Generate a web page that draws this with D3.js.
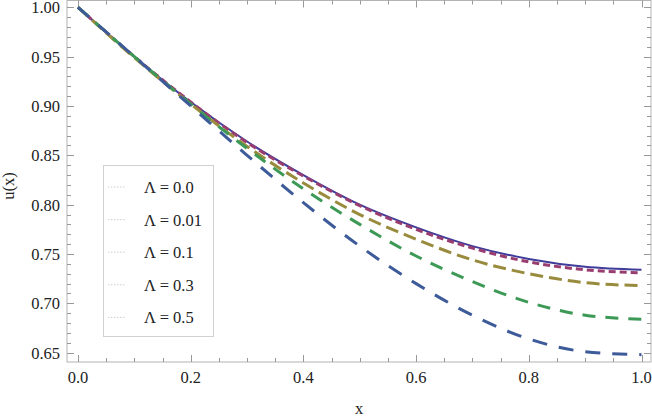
<!DOCTYPE html>
<html><head><meta charset="utf-8">
<script src="https://cdn.jsdelivr.net/npm/d3@7"></script>
<style>
html,body{margin:0;padding:0;background:#fff;}
svg{display:block;}
svg text{font-family:"Liberation Serif","Times New Roman",Times,"DejaVu Serif",serif;}
</style>
</head><body>
<script>
const xs = [0, 0.1, 0.2, 0.3, 0.4, 0.5, 0.6, 0.7, 0.8, 0.9, 1.0];
const lambdaLabels = ["Λ = 0.0", "Λ = 0.01", "Λ = 0.1", "Λ = 0.3", "Λ = 0.5"];
const u0   = [1.000, 0.950, 0.904, 0.864, 0.830, 0.800, 0.777, 0.758, 0.745, 0.737, 0.734];
const u001 = [1.000, 0.950, 0.904, 0.863, 0.829, 0.799, 0.775, 0.756, 0.742, 0.734, 0.731];
const u01  = [1.000, 0.949, 0.902, 0.859, 0.822, 0.790, 0.765, 0.744, 0.730, 0.721, 0.718];
const u03  = [1.000, 0.950, 0.902, 0.857, 0.816, 0.780, 0.748, 0.722, 0.701, 0.688, 0.684];
const u05  = [1.000, 0.950, 0.900, 0.850, 0.802, 0.758, 0.720, 0.688, 0.664, 0.651, 0.648];
const seriesValues = [u0, u001, u01, u03, u05];
const colors = ["#3F3D99", "#993D71", "#998B3D", "#3D9956", "#3D5A99"];
const dashes = [null, "7,4", "13,6", "13,10", "15,12"];
const widths = [2, 3, 3, 3, 3];
const xTicks = [0, 0.2, 0.4, 0.6, 0.8, 1.0];
const yTicks = [0.65, 0.70, 0.75, 0.80, 0.85, 0.90, 0.95, 1.00];

const W = 652, H = 417;
const L = 67, R = 651, T = 0.5, B = 362;
const FS = 16.5;
const svg = d3.select("body").append("svg").attr("width", W).attr("height", H);
const x = d3.scaleLinear().domain([0, 1]).range([78, 641.5]);
const y = d3.scaleLinear().domain([0.65, 1]).range([352.7, 7.3]);
const tickCol = "#999", frameCol = "#b4b4b4", textCol = "#222";

// Times-like advance widths (em) to keep text widths as in the reference
const tw = {"0":.5,"1":.5,"2":.5,"3":.5,"4":.5,"5":.5,"6":.5,"7":.5,"8":.5,"9":.5,".":.25," ":.25,"=":.564,"Λ":.722,"x":.5,"u":.5,"(":.333,")":.333};
const timesWidth = s => 17 * Array.from(s).reduce((a, c) => a + (tw[c] || .5), 0);
function fit(sel) {
  sel.each(function () {
    const t = d3.select(this);
    const target = timesWidth(t.text());
    const actual = this.getComputedTextLength();
    if (actual > target + 0.5) t.attr("textLength", target).attr("lengthAdjust", "spacingAndGlyphs");
  });
}

// frame
svg.append("rect").attr("x", L).attr("y", T).attr("width", R - L).attr("height", B - T)
  .attr("fill", "none").attr("stroke", frameCol).attr("stroke-width", 1);

// ticks
const g = svg.append("g").attr("stroke", tickCol).attr("stroke-width", 1);
d3.range(0, 1.0001, 0.05).forEach(v => {
  const isMajor = xTicks.some(t => Math.abs(t - v) < 1e-6);
  const len = isMajor ? 7 : 4;
  const px = Math.round(x(v)) + 0.5;
  g.append("line").attr("x1", px).attr("x2", px).attr("y1", B).attr("y2", B - len);
  g.append("line").attr("x1", px).attr("x2", px).attr("y1", T).attr("y2", T + len);
});
d3.range(0.65, 1.0001, 0.01).forEach(v => {
  const isMajor = yTicks.some(t => Math.abs(t - v) < 1e-6);
  const len = isMajor ? 7 : 4;
  const py = Math.round(y(v)) + 0.5;
  g.append("line").attr("x1", L).attr("x2", L + len).attr("y1", py).attr("y2", py);
  g.append("line").attr("x1", R).attr("x2", R - len).attr("y1", py).attr("y2", py);
});

// tick labels
svg.append("g").selectAll("text").data(xTicks).join("text")
  .attr("x", d => x(d)).attr("y", 383).attr("text-anchor", "middle")
  .attr("font-size", FS).attr("fill", textCol)
  .text(d => d3.format(".1f")(d)).call(fit);
svg.append("g").selectAll("text").data(yTicks).join("text")
  .attr("x", 60).attr("y", d => y(d) + 6).attr("text-anchor", "end")
  .attr("font-size", FS).attr("fill", textCol)
  .text(d => d3.format(".2f")(d)).call(fit);

// axis labels
svg.append("text").attr("x", 359).attr("y", 414).attr("text-anchor", "middle")
  .attr("font-size", FS).attr("fill", textCol).text("x").call(fit);
svg.append("text").attr("transform", "translate(14,186) rotate(-90)").attr("text-anchor", "middle")
  .attr("font-size", FS).attr("fill", textCol).text("u(x)").call(fit);

// curves
const line = d3.line().x((d, i) => x(xs[i])).y(d => y(d)).curve(d3.curveMonotoneX);
seriesValues.forEach((vals, i) => {
  const p = svg.append("path").attr("d", line(vals)).attr("fill", "none")
    .attr("stroke", colors[i]).attr("stroke-width", widths[i]);
  if (dashes[i]) p.attr("stroke-dasharray", dashes[i]);
});

// legend
const lg = svg.append("g");
lg.append("rect").attr("x", 103.5).attr("y", 165.5).attr("width", 110).attr("height", 171)
  .attr("fill", "#fff").attr("stroke", "#d0d0d0").attr("stroke-width", 1);
lambdaLabels.forEach((lab, i) => {
  const cy = 187 + i * 32.6;
  lg.append("line").attr("x1", 108).attr("x2", 125).attr("y1", cy).attr("y2", cy)
    .attr("stroke", "#cfcfcf").attr("stroke-width", 1).attr("stroke-dasharray", "1.5,1.5");
  lg.append("text").attr("x", 144).attr("y", cy + 6)
    .attr("font-size", FS).attr("fill", textCol).text(lab).call(fit);
});
</script>
</body></html>
